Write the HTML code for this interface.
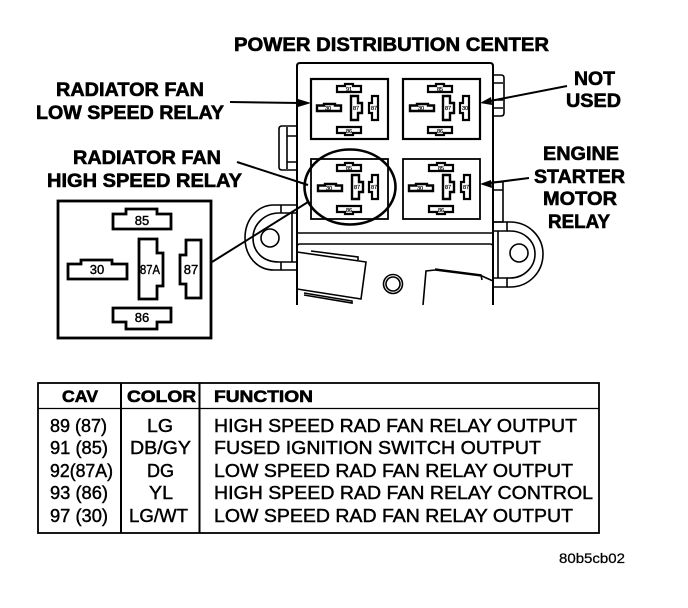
<!DOCTYPE html>
<html>
<head>
<meta charset="utf-8">
<style>
html,body{margin:0;padding:0;background:#fff;width:688px;height:608px;overflow:hidden}
svg{display:block}
text{font-family:"Liberation Sans",sans-serif;fill:#000}
.h{font-weight:bold;font-size:19px;stroke:#000;stroke-width:.6}
.t{font-size:18.500px;stroke:#000;stroke-width:.45}
.p{font-size:13px;stroke:#000;stroke-width:.4}
.s{font-size:5.500px;stroke:#000;stroke-width:.2}
</style>
</head>
<body>
<svg width="688" height="608" viewBox="0 0 688 608" xmlns="http://www.w3.org/2000/svg">
<defs>
<path id="tp" d="M0 2H8V0H16V2H24V8H0Z" fill="#fff" stroke="#000" stroke-width="2.2"/>
<path id="bp" d="M0 0H24V6H16V8H8V6H0Z" fill="#fff" stroke="#000" stroke-width="2.2"/>
<path id="lp" d="M0 1.5H7V0H18V1.5H24V7H0Z" fill="#fff" stroke="#000" stroke-width="2.4"/>
<path id="cp" d="M0 0H7V7H11V17H7V24H0Z" fill="#fff" stroke="#000" stroke-width="2.4"/>
<path id="rp" d="M3 0H9V24H3V17H0V7H3Z" fill="#fff" stroke="#000" stroke-width="2.2"/>
</defs>

<!-- Title and labels -->
<text class="h" x="234" y="51" textLength="315" lengthAdjust="spacingAndGlyphs">POWER DISTRIBUTION CENTER</text>
<text class="h" x="56" y="96" textLength="148" lengthAdjust="spacingAndGlyphs">RADIATOR FAN</text>
<text class="h" x="36" y="119" textLength="188" lengthAdjust="spacingAndGlyphs">LOW SPEED RELAY</text>
<text class="h" x="73" y="164" textLength="148" lengthAdjust="spacingAndGlyphs">RADIATOR FAN</text>
<text class="h" x="47" y="187" textLength="195" lengthAdjust="spacingAndGlyphs">HIGH SPEED RELAY</text>
<text class="h" x="574" y="85" textLength="41" lengthAdjust="spacingAndGlyphs">NOT</text>
<text class="h" x="566" y="107" textLength="55" lengthAdjust="spacingAndGlyphs">USED</text>
<text class="h" x="543" y="160" textLength="76" lengthAdjust="spacingAndGlyphs">ENGINE</text>
<text class="h" x="534" y="183" textLength="91" lengthAdjust="spacingAndGlyphs">STARTER</text>
<text class="h" x="543" y="205" textLength="74" lengthAdjust="spacingAndGlyphs">MOTOR</text>
<text class="h" x="548" y="228" textLength="62" lengthAdjust="spacingAndGlyphs">RELAY</text>

<g fill="none" stroke="#000" stroke-width="1.6">
<!-- Main housing -->
<path d="M297 305V66Q297 63 300 63H490Q493 63 493 66V305" stroke-width="2"/>
<path d="M297 233H493M297 247Q297 244 300 244H490Q493 244 493 247" stroke-width="1.5"/>

<!-- Side tabs -->
<path d="M297 126H282Q279 126 279 129V167Q279 170 282 170H297M287 127V169M287 136H297M287 162H297"/>
<path d="M494 75H501Q504 75 504 78V113Q504 116 501 116H494M494 83H503M494 100H503M494 108H503"/>
<path d="M494 182H503V222H494M494 190H503"/>

<!-- Left ear -->
<path d="M297 205H274C257 205 245 220 245 238C245 256 257 270 274 270H297"/>
<path d="M297 213H279C265 213 253 224 253 238C253 252 263 262 279 262H297M281 205V213M281 262V270M292 213V262"/>
<circle cx="270" cy="238" r="9"/>

<!-- Right ear -->
<path d="M493 222H507V231H493M493 278H507V287H493M498 231V278" />
<path d="M507 222H510C529 222 543 237 543 254C543 272 529 287 510 287H507"/>
<path d="M507 231H510C524 231 535 241 535 254C535 267 524 278 510 278H507"/>
<circle cx="519" cy="253" r="9"/>

<!-- Centre stud -->
<circle cx="393" cy="284" r="9.500"/>
<circle cx="393" cy="284" r="7"/>

<!-- Lower brackets -->
<path d="M297 252L366 262L361 299L297 289"/>
<path d="M311 251L358 257V260M304 293L352 301V303L304 295"/>
<path d="M423 305L426 271L435 270L482 276L493 281M435 269L481 275L482 280"/>
</g>

<!-- Relay boxes -->
<g fill="#fff" stroke="#000" stroke-width="2.2">
<rect x="311" y="79" width="77" height="60"/>
<rect x="403" y="79" width="77" height="60"/>
<rect x="311" y="159" width="77" height="60" stroke-width="1.800"/>
<rect x="403" y="159" width="77" height="60" stroke-width="1.800"/>
</g>

<!-- Relay pins -->
<use href="#tp" x="337" y="84"/><use href="#lp" x="317" y="104"/><use href="#cp" x="351" y="96"/><use href="#rp" x="369" y="96"/><use href="#bp" x="337" y="127"/>
<use href="#tp" x="428" y="84"/><use href="#lp" x="410" y="104"/><use href="#cp" x="443" y="96"/><use href="#rp" x="460" y="96"/><use href="#bp" x="428" y="127"/>
<use href="#tp" x="337" y="163"/><use href="#lp" x="318" y="184"/><use href="#cp" x="352" y="175"/><use href="#rp" x="369" y="175"/><use href="#bp" x="337" y="206"/>
<use href="#tp" x="429" y="163"/><use href="#lp" x="409" y="184"/><use href="#cp" x="443" y="175"/><use href="#rp" x="461" y="175"/><use href="#bp" x="429" y="206"/>

<g text-anchor="middle">
<text class="s" x="349" y="91">91</text><text class="s" x="328" y="110">30</text><text class="s" x="356" y="110">87</text><text class="s" x="374" y="110">87</text><text class="s" x="349" y="133">86</text>
<text class="s" x="440" y="91">85</text><text class="s" x="421" y="110">30</text><text class="s" x="448" y="110">87</text><text class="s" x="465" y="110">30</text><text class="s" x="440" y="133">86</text>
<text class="s" x="349" y="170">85</text><text class="s" x="329" y="190">30</text><text class="s" x="357" y="189">87</text><text class="s" x="374" y="189">87</text><text class="s" x="349" y="212">86</text>
<text class="s" x="441" y="170">85</text><text class="s" x="420" y="190">30</text><text class="s" x="448" y="189">87</text><text class="s" x="466" y="189">87</text><text class="s" x="441" y="212">86</text>
</g>

<!-- Circle -->
<ellipse cx="350" cy="187" rx="45.500" ry="37.500" fill="none" stroke="#000" stroke-width="2.600"/>

<!-- Leader lines -->
<g fill="none" stroke="#000" stroke-width="2">
<path d="M230 102L300 103"/>
<path d="M567 86L490 101"/>
<path d="M529 178L490 183"/>
<path d="M237 162L308 185"/>
<path d="M212 262L308 202"/>
</g>
<g fill="#000">
<path d="M311 103L298 99V107Z"/>
<path d="M480 103L491 97L492 105Z"/>
<path d="M480 184L491 180L492 188Z"/>
</g>

<!-- Connector detail -->
<rect x="58" y="201" width="153" height="137" fill="#fff" stroke="#000" stroke-width="2.800"/>
<g fill="#fff" stroke="#000" stroke-width="2.800">
<path d="M113 214H126V209H157V214H171V229H113Z"/>
<path d="M68 264H81V260H112V264H127V279H68Z"/>
<path d="M139 239H157V253H163V286H157V299H139Z"/>
<path d="M186 240H201V298H186V284H180V255H186Z"/>
<path d="M113 308H171V322H157V329H126V322H113Z"/>
</g>
<text class="p" x="142" y="225" text-anchor="middle">85</text>
<text class="p" x="97" y="274" text-anchor="middle">30</text>
<text class="p" x="150" y="274" text-anchor="middle" textLength="20" lengthAdjust="spacingAndGlyphs">87A</text>
<text class="p" x="191" y="274" text-anchor="middle">87</text>
<text class="p" x="142" y="322" text-anchor="middle">86</text>

<!-- Table -->
<rect x="38" y="383" width="561" height="150" fill="none" stroke="#000" stroke-width="1.800"/>
<path d="M38 408.500H599" stroke="#000" stroke-width="1.200"/>
<path d="M121 383V533M199.500 383V533" stroke="#000" stroke-width="2"/>

<text class="h" x="62" y="402" textLength="36" lengthAdjust="spacingAndGlyphs" style="font-size:17px">CAV</text>
<text class="h" x="127" y="402" textLength="69" lengthAdjust="spacingAndGlyphs" style="font-size:17px">COLOR</text>
<text class="h" x="214" y="402" textLength="99" lengthAdjust="spacingAndGlyphs" style="font-size:17px">FUNCTION</text>

<text class="t" x="50" y="432" textLength="57" lengthAdjust="spacingAndGlyphs">89 (87)</text>
<text class="t" x="50" y="454" textLength="58" lengthAdjust="spacingAndGlyphs">91 (85)</text>
<text class="t" x="50" y="477" textLength="63" lengthAdjust="spacingAndGlyphs">92(87A)</text>
<text class="t" x="50" y="499" textLength="58" lengthAdjust="spacingAndGlyphs">93 (86)</text>
<text class="t" x="50" y="522" textLength="58" lengthAdjust="spacingAndGlyphs">97 (30)</text>

<text class="t" x="147" y="432" textLength="26" lengthAdjust="spacingAndGlyphs">LG</text>
<text class="t" x="130" y="454" textLength="61" lengthAdjust="spacingAndGlyphs">DB/GY</text>
<text class="t" x="147" y="477" textLength="27" lengthAdjust="spacingAndGlyphs">DG</text>
<text class="t" x="149" y="499" textLength="24" lengthAdjust="spacingAndGlyphs">YL</text>
<text class="t" x="129" y="522" textLength="59" lengthAdjust="spacingAndGlyphs">LG/WT</text>

<text class="t" x="214" y="432" textLength="363" lengthAdjust="spacingAndGlyphs">HIGH SPEED RAD FAN RELAY OUTPUT</text>
<text class="t" x="214" y="454" textLength="327" lengthAdjust="spacingAndGlyphs">FUSED IGNITION SWITCH OUTPUT</text>
<text class="t" x="214" y="477" textLength="359" lengthAdjust="spacingAndGlyphs">LOW SPEED RAD FAN RELAY OUTPUT</text>
<text class="t" x="214" y="499" textLength="379" lengthAdjust="spacingAndGlyphs">HIGH SPEED RAD FAN RELAY CONTROL</text>
<text class="t" x="214" y="522" textLength="359" lengthAdjust="spacingAndGlyphs">LOW SPEED RAD FAN RELAY OUTPUT</text>

<text x="559" y="563" textLength="66" lengthAdjust="spacingAndGlyphs" style="font-size:14px;stroke:#000;stroke-width:.25">80b5cb02</text>
</svg>
</body>
</html>
